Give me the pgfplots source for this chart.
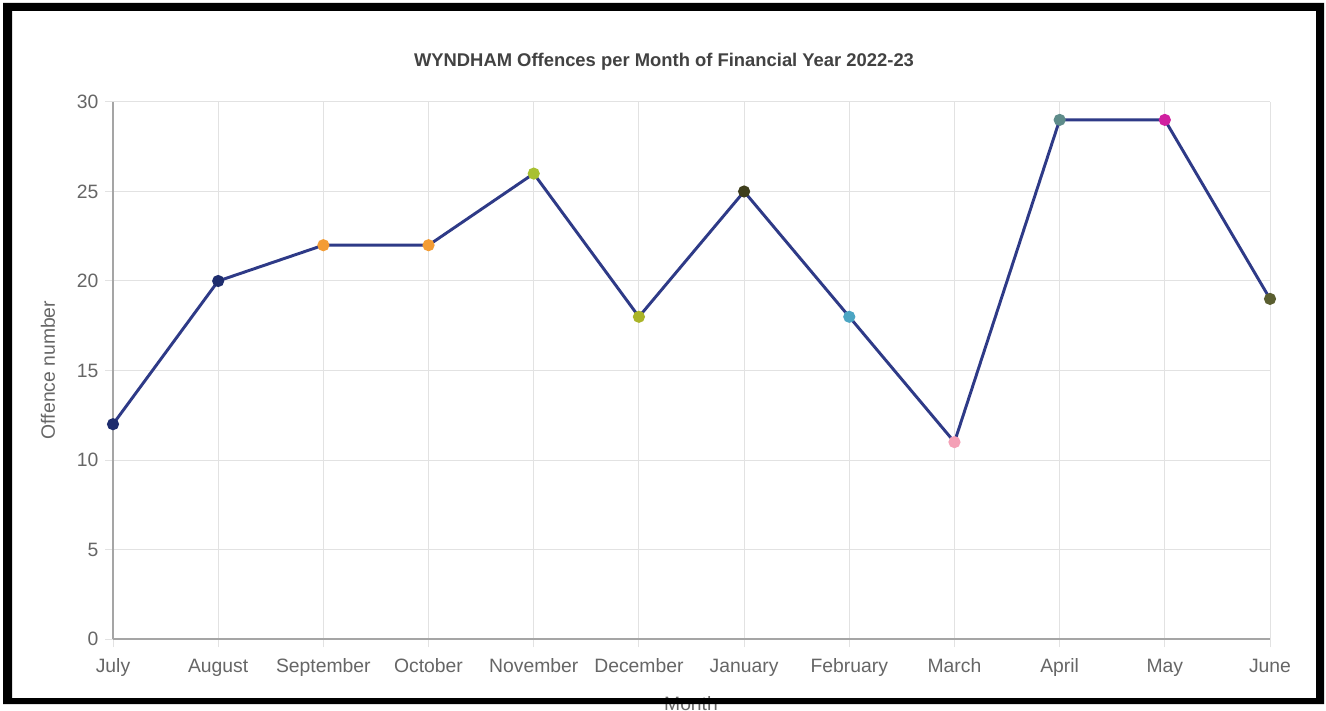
\documentclass[border=0pt]{standalone}
\usepackage{pgfplots}
\pgfplotsset{compat=1.18}
\usepackage{pgfplotstable}
\usepackage{fontspec}
\setmainfont{Liberation Sans}

\definecolor{gridc}{RGB}{226,226,226}
\definecolor{axisc}{RGB}{165,165,165}
\definecolor{labc}{RGB}{102,102,102}
\definecolor{titlec}{RGB}{66,66,66}
\definecolor{linec}{RGB}{46,58,135}
\definecolor{m1}{RGB}{30,45,110}
\definecolor{m2}{RGB}{243,156,52}
\definecolor{m3}{RGB}{168,192,48}
\definecolor{m4}{RGB}{170,180,40}
\definecolor{m5}{RGB}{62,62,28}
\definecolor{m6}{RGB}{76,165,195}
\definecolor{m7}{RGB}{244,160,182}
\definecolor{m8}{RGB}{94,140,138}
\definecolor{m9}{RGB}{208,32,160}
\definecolor{m10}{RGB}{90,94,48}

\pgfplotstableread{
x y c
0 12 a
1 20 b
2 22 c
3 22 d
4 26 e
5 18 f
6 25 g
7 18 h
8 11 i
9 29 j
10 29 k
11 19 l
}\offences

\begin{document}
\begin{tikzpicture}
  \fill[white] (0,0) rectangle (994.5pt,528pt);
  \begin{axis}[
      at={(84.75pt,48.75pt)}, anchor=south west,
      scale only axis,
      width=867.75pt, height=402.75pt,
      xmin=0, xmax=11, ymin=0, ymax=30,
      xtick={0,...,11},
      xticklabels={July,August,September,October,November,December,January,February,March,April,May,June},
      ytick={0,5,...,30},
      axis x line*=bottom, axis y line*=left,
      axis line style={axisc, line width=0.9pt, -},
      tick align=outside, major tick length=6pt,
      tick style={gridc, line width=0.75pt},
      grid=major,
      major grid style={gridc, line width=0.75pt},
      ticklabel style={labc, font=\fontsize{14.5pt}{17pt}\selectfont},
      xticklabel style={yshift=-5pt, text height=10.5pt, text depth=3pt},
      yticklabel style={xshift=-1.5pt},
      /pgf/number format/assume math mode=true,
      clip=false,
    ]
    \addplot[
      scatter, linec, line width=2.2pt, mark size=3.4pt,
      scatter src=explicit symbolic,
      scatter/classes={
        a={mark=*, m1}, b={mark=*, m1},
        c={mark=*, m2}, d={mark=*, m2},
        e={mark=*, m3}, f={mark=*, m4},
        g={mark=*, m5}, h={mark=*, m6},
        i={mark=*, m7}, j={mark=*, m8},
        k={mark=*, m9}, l={mark=*, m10}
      },
    ] table[x=x, y=y, meta=c] {\offences};
  \end{axis}
  \begin{scope}[x=0.75pt,y=0.75pt]
    % title and axis titles
    \node[titlec, font=\fontsize{13.8pt}{16pt}\selectfont\bfseries] at (664,642) {WYNDHAM Offences per Month of Financial Year 2022-23};
    \node[labc, rotate=90, font=\fontsize{14.5pt}{17pt}\selectfont] at (48,334) {Offence number};
    \node[labc, anchor=north, inner sep=0pt, font=\fontsize{14.5pt}{17pt}\selectfont] at (691,8) {Month};
    % black frame of the screenshot
    \fill[black, even odd rule] (3,0) rectangle (1324,701) (12,6) rectangle (1316,693);
  \end{scope}
\end{tikzpicture}
\end{document}
